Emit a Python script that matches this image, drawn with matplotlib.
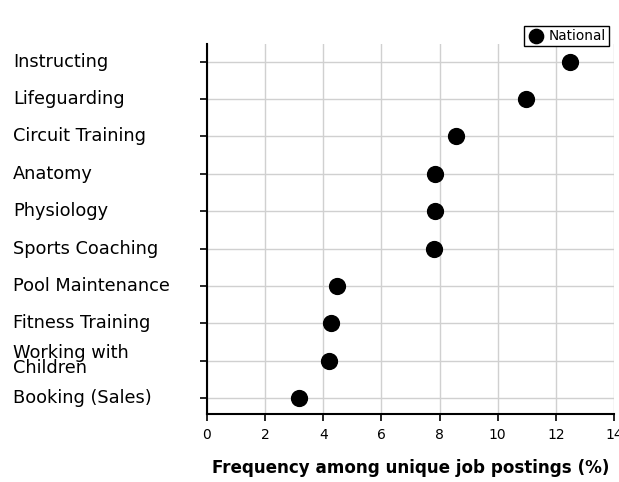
import numpy as np
import matplotlib.pyplot as plt
import matplotlib.transforms as mtransforms

skills = ["Instructing", "Lifeguarding", "Circuit Training", "Anatomy", "Physiology",
          "Sports Coaching", "Pool Maintenance", "Fitness Training",
          "Working with\nChildren", "Booking (Sales)"]
national = [12.48, 10.98, 8.57, 7.84, 7.84, 7.81, 4.47, 4.27, 4.2, 3.16]
xticks = [0, 2, 4, 6, 8, 10, 12, 14]

plt.rcParams['font.family'] = ['DejaVu Sans']

fig = plt.figure(figsize=(6.19, 4.82), dpi=100)
ax = fig.add_axes([0.3344, 0.141, 0.6576, 0.768])

y = np.arange(len(skills))
ax.scatter(national, y, s=130, color='black', zorder=3, label='National')

ax.set_xlim(0, 14)
ax.set_ylim(len(skills) - 0.57, -0.48)
ax.set_xticks(xticks)
ax.set_xticklabels([str(t) for t in xticks], fontsize=10)
ax.set_yticks(y)
ax.set_yticklabels([])
ax.grid(True, color='#d0d0d0', linewidth=1)
ax.set_axisbelow(True)
for s in ['top', 'right']:
    ax.spines[s].set_visible(False)
for s in ['left', 'bottom']:
    ax.spines[s].set_linewidth(1.5)
ax.tick_params(axis='both', direction='out', length=5, width=1.2, color='black')
ax.tick_params(axis='x', pad=5)

trans = mtransforms.blended_transform_factory(fig.transFigure, ax.transData)
for yi, lab in zip(y, skills):
    ax.text(13 / 619, yi, lab, transform=trans, ha='left', va='center',
            fontsize=12.8, linespacing=0.8)

ax.set_xlabel("Frequency among unique job postings (%)", fontsize=12.1,
              fontweight='bold', labelpad=12)

fig.legend(loc='upper right', bbox_to_anchor=(0.984, 0.947), fontsize=9.8,
           markerscale=0.9, fancybox=False, edgecolor='black', framealpha=1,
           borderpad=0.25, handletextpad=0.35, handlelength=1.2, borderaxespad=0)

fig.savefig('out.png', dpi=100)
